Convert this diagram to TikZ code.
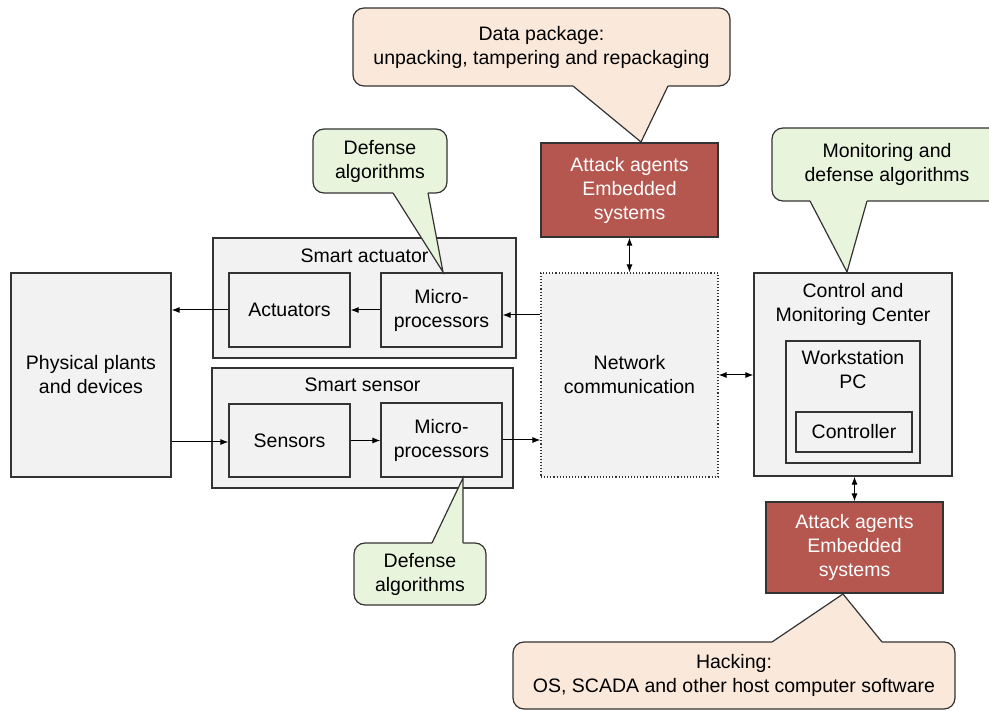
\documentclass[tikz,border=0pt]{standalone}
\usepackage{fontspec}
\setmainfont{Liberation Sans}
\usetikzlibrary{arrows.meta,calc}
\definecolor{boxgray}{HTML}{F2F2F2}
\definecolor{edge}{HTML}{333333}
\definecolor{atkred}{HTML}{B5564F}
\definecolor{cbgreen}{HTML}{E8F4DC}
\definecolor{cbbeige}{HTML}{FAE8DA}
\begin{document}
\begin{tikzpicture}[x=1pt,y=-1pt,
  font=\fontsize{19.5}{24}\selectfont,
  box/.style={draw=edge,fill=boxgray,line width=1.2pt,inner sep=0pt,align=center,anchor=center},
  netbox/.style={draw=edge,fill=boxgray,line width=1.1pt,dotted,inner sep=0pt,align=center,anchor=center},
  atkbox/.style={draw=edge,fill=atkred,line width=1.2pt,inner sep=0pt,align=center,text=white,anchor=center},
  ttl/.style={anchor=center,inner sep=0pt,align=center},
  cbgr/.style={draw=edge,fill=cbgreen,line width=1.2pt,rounded corners=11pt,inner sep=0pt,align=center,anchor=center},
  cbbe/.style={draw=edge,fill=cbbeige,line width=1.2pt,rounded corners=11pt,inner sep=0pt,align=center,anchor=center},
  cbline/.style={draw=edge,line width=1.2pt,line join=miter},
  arr/.style={draw=black,line width=1pt,-{Latex[length=8pt,width=6pt]}},
  darr/.style={draw=black,line width=1pt,{Latex[length=8pt,width=6pt]}-{Latex[length=8pt,width=6pt]}}
]
\useasboundingbox (0,0) rectangle (989,711);
\clip (0,0) rectangle (989,711);

% main boxes
\node[box,minimum width=160pt,minimum height=204pt] (phys) at (91,375) {Physical plants\\and devices};
\node[box,minimum width=303pt,minimum height=120pt] (sa) at (364.5,298) {};
\node[ttl] (satitle) at (364.5,256) {Smart actuator};
\node[box,minimum width=121pt,minimum height=74pt] (act) at (289.5,310) {Actuators};
\node[box,minimum width=121pt,minimum height=74pt] (ma) at (441.5,310) {Micro-\\processors};
\node[box,minimum width=301pt,minimum height=120pt] (ss) at (362.5,428) {};
\node[ttl] (sstitle) at (362.5,385) {Smart sensor};
\node[box,minimum width=121pt,minimum height=73pt] (sen) at (289.5,440.5) {Sensors};
\node[box,minimum width=121pt,minimum height=74pt] (ms) at (441.5,440) {Micro-\\processors};
\node[netbox,minimum width=177pt,minimum height=204pt] (net) at (629.5,375) {Network\\communication};
\node[box,minimum width=198pt,minimum height=203pt] (cmc) at (853,374.5) {};
\node[ttl] (cmctitle) at (853,304) {Control and\\Monitoring Center};
\node[box,minimum width=134pt,minimum height=122pt] (ws) at (853,402) {};
\node[ttl] (wstitle) at (853,370) {Workstation\\PC};
\node[box,minimum width=116pt,minimum height=40pt] (ctrl) at (854,432) {Controller};
\node[atkbox,minimum width=177pt,minimum height=94pt] (atk1) at (629.5,190) {Attack agents\\Embedded\\systems};
\node[atkbox,minimum width=177pt,minimum height=91pt] (atk2) at (854.5,547.5) {Attack agents\\Embedded\\systems};

% connectors
\draw[arr] (act.west) -- (act.west -| phys.east);
\draw[arr] (ma.west) -- (act.east);
\draw[arr] ($(net.west |- ma.east)+(0,5)$) -- ($(ma.east)+(0,5)$);
\draw[arr] ($(phys.east |- sen.west)+(0,1.5)$) -- ($(sen.west)+(0,1.5)$);
\draw[arr] (sen.east) -- (sen.east -| ms.west);
\draw[arr] (ms.east) -- (ms.east -| net.west);
\draw[darr] (atk1.south) -- (net.north);
\draw[darr] (net.east) -- (net.east -| cmc.west);
\draw[darr] (cmc.south -| atk2.north) -- (atk2.north);

% callouts
\node[cbbe,minimum width=377pt,minimum height=78pt] (cbdata) at (541.5,47) {Data package:\\unpacking, tampering and repackaging};
\coordinate (tipdata) at (641,142);
\fill[cbbeige] (573,84.5) -- (573,86) -- (tipdata) -- (668,86) -- (668,84.5) -- cycle;
\draw[cbline] (573,86) -- (tipdata) -- (668,86);

\node[cbgr,minimum width=134pt,minimum height=64pt] (cbdef1) at (380,161) {Defense\\algorithms};
\coordinate (tipdef1) at (443,272);
\fill[cbgreen] (393,191.5) -- (393,193) -- (tipdef1) -- (428,193) -- (428,191.5) -- cycle;
\draw[cbline] (393,193) -- (tipdef1) -- (428,193);

\node[cbgr,minimum width=230pt,minimum height=73pt] (cbmon) at (887,164.5) {Monitoring and\\defense algorithms};
\coordinate (tipmon) at (847,272);
\fill[cbgreen] (810,199.5) -- (810,201) -- (tipmon) -- (867,201) -- (867,199.5) -- cycle;
\draw[cbline] (810,201) -- (tipmon) -- (867,201);

\node[cbgr,minimum width=132pt,minimum height=62pt] (cbdef2) at (420,574) {Defense\\algorithms};
\coordinate (tipdef2) at (463,478);
\fill[cbgreen] (432,544.5) -- (432,543) -- (tipdef2) -- (463,543) -- (463,544.5) -- cycle;
\draw[cbline] (432,543) -- (tipdef2) -- (463,543);

\node[cbbe,minimum width=442pt,minimum height=67pt] (cbhack) at (734,675.5) {Hacking:\\OS, SCADA and other host computer software};
\coordinate (tiphack) at (843,594);
\fill[cbbeige] (772,643.5) -- (772,642) -- (tiphack) -- (882,642) -- (882,643.5) -- cycle;
\draw[cbline] (772,642) -- (tiphack) -- (882,642);
\end{tikzpicture}
\end{document}
